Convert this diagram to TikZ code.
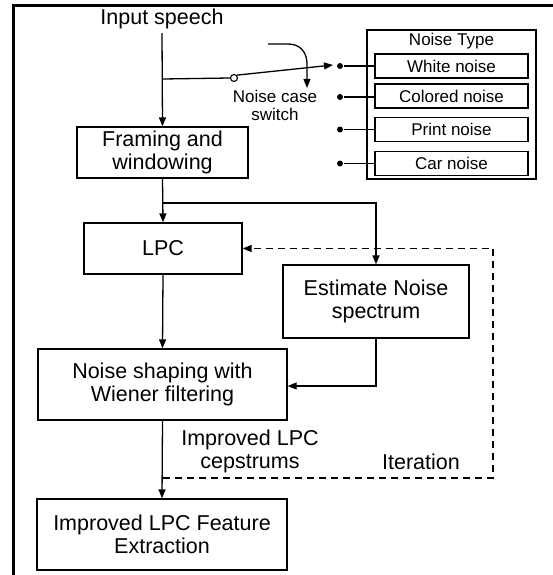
\documentclass[tikz,border=0pt]{standalone}
\usepackage{fontspec}
\setmainfont{Liberation Sans}
\usetikzlibrary{arrows.meta}
\begin{document}
\begin{tikzpicture}[x=1pt,y=-1pt,
  line width=1.3pt,
  big/.style={font=\fontsize{21.5}{23}\selectfont},
  small/.style={font=\fontsize{17}{18}\selectfont},
  box/.style={draw,rectangle,align=center,inner sep=0pt,big},
  nbox/.style={draw,rectangle,align=center,inner sep=0pt,small,minimum width=153pt,minimum height=24pt},
  arr/.style={-{Triangle[length=9pt,width=7pt]}},
  dsh/.style={dash pattern=on 7pt off 5pt},
  dot/.style={circle,fill,inner sep=0pt,minimum size=6pt}]
\useasboundingbox (0,0) rectangle (553,575);
% frame
\draw[line width=3pt] (13,575) -- (13,6) -- (553,6);
% main boxes
\node[big] (inp) at (162,19) {Input speech};
\node[box,minimum width=171pt,minimum height=51pt] (frame) at (162.5,152.5) {Framing and\\windowing};
\node[box,minimum width=158pt,minimum height=51pt] (lpc) at (163,248.5) {LPC};
\node[box,minimum width=186pt,minimum height=73pt] (est) at (376,301.5) {Estimate Noise\\spectrum};
\node[box,minimum width=249pt,minimum height=71pt] (shape) at (162.5,384.5) {Noise shaping with\\Wiener filtering};
\node[box,minimum width=250pt,minimum height=71pt] (feat) at (162,534.5) {Improved LPC Feature\\Extraction};
% noise type group
\node[draw,rectangle,minimum width=169pt,minimum height=149pt,inner sep=0pt] (group) at (451.5,104.5) {};
\node[small] (ntype) at (451.5,41) {Noise Type};
\node[nbox] (white) at (451.5,66) {White noise};
\node[nbox] (col) at (451.5,96) {Colored noise};
\node[nbox] (prn) at (451.5,129.5) {Print noise};
\node[nbox] (car) at (451.5,163.5) {Car noise};
\node[dot] (d1) at (340,66) {};
\node[dot] (d2) at (340,97) {};
\node[dot] (d3) at (340,129.5) {};
\node[dot] (d4) at (340,163.5) {};
\draw (d1) -- (white.west);
\draw (d2) -- (d2 -| col.west);
\draw (d3) -- (prn.west);
\draw (d4) -- (car.west);
% switch
\coordinate (b1) at (163,79);
\node[circle,draw,fill=white,inner sep=0pt,minimum size=7pt,line width=1.1pt] (sw) at (234,78) {};
\coordinate (tip) at (333,65);
\draw (b1) -- (sw.west);
\draw[arr] (sw.north east) -- (tip);
\coordinate (cs) at (268,44);
\coordinate (ce) at (307,88);
\draw[arr] (cs) -- (288,44) .. controls (300,44) and (307,52) .. (307,64) -- (ce);
\node[small,align=center] (swl) at (275,105) {Noise case\\switch};
% main flow
\draw[arr] (inp.south) -- (frame.north);
\draw[arr] (frame.south) -- (lpc.north);
\coordinate (b2) at (163,203);
\draw[arr] (b2) -| (est.north);
\draw[arr] (lpc.south) -- (shape.north);
\draw[arr] (est.south) |- (shape.east |- 0,386);
\draw[arr] (shape.south) -- (feat.north);
% iteration loop
\coordinate (b3) at (163,478);
\coordinate (c3) at (493,478);
\coordinate (c4) at (493,248.5);
\draw[arr,dsh] (b3) -- (c3) -- (c4) -- (lpc.east);
\node[big,align=center] (imp) at (250,451) {Improved LPC\\cepstrums};
\node[big] (iter) at (421,462) {Iteration};
\end{tikzpicture}
\end{document}
